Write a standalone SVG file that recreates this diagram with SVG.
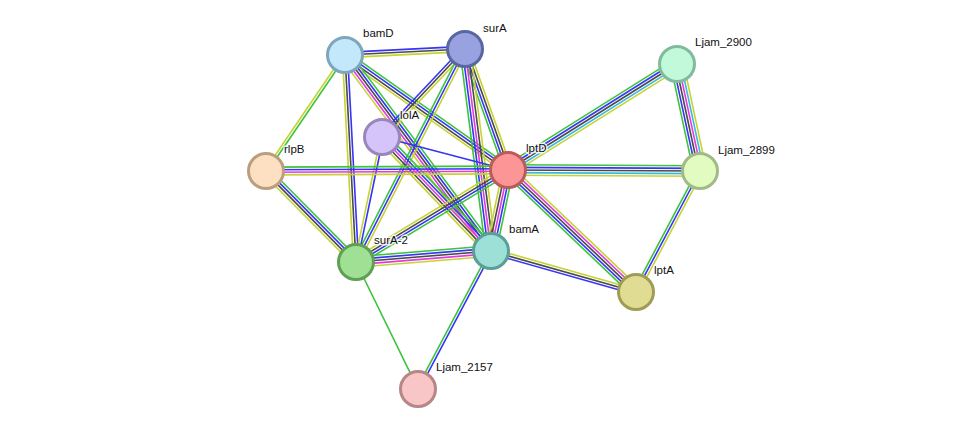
<svg xmlns="http://www.w3.org/2000/svg" width="975" height="434" viewBox="0 0 975 434">
<style>
line{stroke-width:1.6;fill:none}
.g{stroke:#3cc43c}.b{stroke:#3535f5}.k{stroke:#4a4a4a}.m{stroke:#e23ae2}.c{stroke:#3ab8de}.y{stroke:#c6d333}
.node circle{stroke-width:3}
text{font-family:"Liberation Sans",Arial,sans-serif;font-size:11.5px;fill:#111;stroke:#fff;stroke-width:3;stroke-opacity:0.8;paint-order:stroke;stroke-linejoin:round}
</style>
<rect width="975" height="434" fill="#fff"/>
<g id="edges">
<!-- bamD-surA -->
<g transform="translate(345 55) rotate(-2.86)"><line x2="120.2" y1="-2.6" y2="-2.6" class="b"/><line x2="120.2" class="k"/><line x2="120.2" y1="2.6" y2="2.6" class="y"/></g>
<!-- bamD-rlpB -->
<g transform="translate(345 55) rotate(124.26)"><line x2="140.3" y1="-1.3" y2="-1.3" class="g"/><line x2="140.3" y1="1.3" y2="1.3" class="y"/></g>
<!-- bamD-surA-2 -->
<g transform="translate(345 55) rotate(86.96)"><line x2="207.3" y1="-2.6" y2="-2.6" class="b"/><line x2="207.3" class="k"/><line x2="207.3" y1="2.6" y2="2.6" class="y"/></g>
<!-- bamD-lptD -->
<g transform="translate(345 55) rotate(35.2)"><line x2="199.5" y1="-3.9" y2="-3.9" class="g"/><line x2="199.5" y1="-1.3" y2="-1.3" class="b"/><line x2="199.5" y1="1.3" y2="1.3" class="k"/><line x2="199.5" y1="3.9" y2="3.9" class="y"/></g>
<!-- bamD-bamA -->
<g transform="translate(345 55) rotate(53.3)"><line x2="244.4" y1="-5.2" y2="-5.2" class="g"/><line x2="244.4" y1="-2.6" y2="-2.6" class="b"/><line x2="244.4" class="k"/><line x2="244.4" y1="2.6" y2="2.6" class="m"/><line x2="244.4" y1="5.2" y2="5.2" class="y"/></g>
<!-- surA-lolA -->
<g transform="translate(465 49) rotate(133.3)"><line x2="121" y1="-2.6" y2="-2.6" class="y"/><line x2="121" class="k"/><line x2="121" y1="2.6" y2="2.6" class="b"/></g>
<!-- surA-surA-2 -->
<g transform="translate(465 49) rotate(117.1)"><line x2="239.3" y1="-2.6" y2="-2.6" class="y"/><line x2="239.3" class="b"/><line x2="239.3" y1="2.6" y2="2.6" class="g"/></g>
<!-- surA-lptD -->
<g transform="translate(465 49) rotate(70.4)"><line x2="128.4" y1="-3.9" y2="-3.9" class="y"/><line x2="128.4" y1="-1.3" y2="-1.3" class="k"/><line x2="128.4" y1="1.3" y2="1.3" class="b"/><line x2="128.4" y1="3.9" y2="3.9" class="g"/></g>
<!-- surA-bamA -->
<g transform="translate(465 49) rotate(82.67)"><line x2="203.7" y1="-5.2" y2="-5.2" class="y"/><line x2="203.7" y1="-2.6" y2="-2.6" class="k"/><line x2="203.7" class="m"/><line x2="203.7" y1="2.6" y2="2.6" class="b"/><line x2="203.7" y1="5.2" y2="5.2" class="g"/></g>
<!-- lolA-lptD -->
<g transform="translate(382 137) rotate(14.68)"><line x2="130.2" class="b"/></g>
<!-- lolA-bamA -->
<g transform="translate(382 137) rotate(46.3)"><line x2="157.7" y1="-5.2" y2="-5.2" class="g"/><line x2="157.7" y1="-2.6" y2="-2.6" class="b"/><line x2="157.7" class="m"/><line x2="157.7" y1="2.6" y2="2.6" class="k"/><line x2="157.7" y1="5.2" y2="5.2" class="y"/></g>
<!-- lolA-surA-2 -->
<g transform="translate(382 137) rotate(101.75)"><line x2="127.7" y1="-1.3" y2="-1.3" class="b"/><line x2="127.7" y1="1.3" y2="1.3" class="y"/></g>
<!-- rlpB-lptD -->
<g transform="translate(266 171) rotate(-0.24)"><line x2="242" y1="-3.9" y2="-3.9" class="g"/><line x2="242" y1="-1.3" y2="-1.3" class="b"/><line x2="242" y1="1.3" y2="1.3" class="m"/><line x2="242" y1="3.9" y2="3.9" class="y"/></g>
<!-- rlpB-surA-2 -->
<g transform="translate(266 171) rotate(45.3)"><line x2="128" y1="-3.9" y2="-3.9" class="g"/><line x2="128" y1="-1.3" y2="-1.3" class="b"/><line x2="128" y1="1.3" y2="1.3" class="k"/><line x2="128" y1="3.9" y2="3.9" class="y"/></g>
<!-- lptD-surA-2 -->
<g transform="translate(508 170) rotate(148.8)"><line x2="177.7" y1="-3.9" y2="-3.9" class="g"/><line x2="177.7" y1="-1.3" y2="-1.3" class="b"/><line x2="177.7" y1="1.3" y2="1.3" class="k"/><line x2="177.7" y1="3.9" y2="3.9" class="y"/></g>
<!-- lptD-bamA -->
<g transform="translate(508 170) rotate(101.85)"><line x2="82.8" y1="-5.2" y2="-5.2" class="g"/><line x2="82.8" y1="-2.6" y2="-2.6" class="b"/><line x2="82.8" class="m"/><line x2="82.8" y1="2.6" y2="2.6" class="k"/><line x2="82.8" y1="5.2" y2="5.2" class="y"/></g>
<!-- lptD-Ljam_2900 -->
<g transform="translate(508 170) rotate(-32.1)"><line x2="199.5" y1="-5.2" y2="-5.2" class="g"/><line x2="199.5" y1="-2.6" y2="-2.6" class="b"/><line x2="199.5" class="k"/><line x2="199.5" y1="2.6" y2="2.6" class="c"/><line x2="199.5" y1="5.2" y2="5.2" class="y"/></g>
<!-- lptD-Ljam_2899 -->
<g transform="translate(508 170) rotate(0.3)"><line x2="192" y1="-5.2" y2="-5.2" class="g"/><line x2="192" y1="-2.6" y2="-2.6" class="b"/><line x2="192" class="k"/><line x2="192" y1="2.6" y2="2.6" class="c"/><line x2="192" y1="5.2" y2="5.2" class="y"/></g>
<!-- lptD-lptA -->
<g transform="translate(508 170) rotate(43.6)"><line x2="176.8" y1="-5.2" y2="-5.2" class="y"/><line x2="176.8" y1="-2.6" y2="-2.6" class="m"/><line x2="176.8" class="k"/><line x2="176.8" y1="2.6" y2="2.6" class="b"/><line x2="176.8" y1="5.2" y2="5.2" class="g"/></g>
<!-- Ljam_2900-Ljam_2899 -->
<g transform="translate(677 64) rotate(77.87)"><line x2="109.4" y1="-6.5" y2="-6.5" class="y"/><line x2="109.4" y1="-3.9" y2="-3.9" class="c"/><line x2="109.4" y1="-1.3" y2="-1.3" class="m"/><line x2="109.4" y1="1.3" y2="1.3" class="k"/><line x2="109.4" y1="3.9" y2="3.9" class="b"/><line x2="109.4" y1="6.5" y2="6.5" class="g"/></g>
<!-- Ljam_2899-lptA -->
<g transform="translate(700 171) rotate(117.9)"><line x2="136.9" y1="-2.6" y2="-2.6" class="y"/><line x2="136.9" class="b"/><line x2="136.9" y1="2.6" y2="2.6" class="g"/></g>
<!-- bamA-lptA -->
<g transform="translate(491 251) rotate(15.8)"><line x2="150.7" y1="-2.6" y2="-2.6" class="y"/><line x2="150.7" class="k"/><line x2="150.7" y1="2.6" y2="2.6" class="b"/></g>
<!-- bamA-surA-2 -->
<g transform="translate(491 251) rotate(175.34)"><line x2="135.4" y1="-5.2" y2="-5.2" class="y"/><line x2="135.4" y1="-2.6" y2="-2.6" class="m"/><line x2="135.4" class="k"/><line x2="135.4" y1="2.6" y2="2.6" class="b"/><line x2="135.4" y1="5.2" y2="5.2" class="g"/></g>
<!-- bamA-Ljam_2157 -->
<g transform="translate(491 251) rotate(117.9)"><line x2="156.1" y1="-1.3" y2="-1.3" class="b"/><line x2="156.1" y1="1.3" y2="1.3" class="g"/></g>
<!-- surA-2-Ljam_2157 -->
<g transform="translate(356 262) rotate(63.97)"><line x2="141.3" class="g"/></g>
</g>
<g id="bamD" class="node"><circle cx="345" cy="55" r="17.5" fill="#c3e8fb" stroke="#7ea6bd"/><text x="363" y="37">bamD</text></g>
<g id="surA" class="node"><circle cx="465" cy="49" r="17.5" fill="#98a2e0" stroke="#5a66a2"/><text x="483" y="32">surA</text></g>
<g id="Ljam_2900" class="node"><circle cx="677" cy="64" r="17.5" fill="#c1f9da" stroke="#82bb9c"/><text x="695" y="46">Ljam_2900</text></g>
<g id="lolA" class="node"><circle cx="382" cy="137" r="17.5" fill="#d5c4fa" stroke="#9987bb"/><text x="400" y="119">lolA</text></g>
<g id="lptD" class="node"><circle cx="508" cy="170" r="17.5" fill="#fc9696" stroke="#bb5c5c"/><text x="526" y="152">lptD</text></g>
<g id="Ljam_2899" class="node"><circle cx="700" cy="171" r="17.5" fill="#e1fbc1" stroke="#a2bb86"/><text x="718" y="154">Ljam_2899</text></g>
<g id="rlpB" class="node"><circle cx="266" cy="171" r="17.5" fill="#fde0c2" stroke="#bb9e80"/><text x="284" y="153">rlpB</text></g>
<g id="surA-2" class="node"><circle cx="356" cy="262" r="17.5" fill="#9fe095" stroke="#5ea054"/><text x="374" y="244">surA-2</text></g>
<g id="bamA" class="node"><circle cx="491" cy="251" r="17.5" fill="#9ce0d7" stroke="#5c9f98"/><text x="509" y="233">bamA</text></g>
<g id="lptA" class="node"><circle cx="636" cy="292" r="17.5" fill="#e0dc94" stroke="#a09c56"/><text x="654" y="274">lptA</text></g>
<g id="Ljam_2157" class="node"><circle cx="418" cy="389" r="17.5" fill="#f8c6c6" stroke="#b88686"/><text x="436" y="371">Ljam_2157</text></g>
</svg>
